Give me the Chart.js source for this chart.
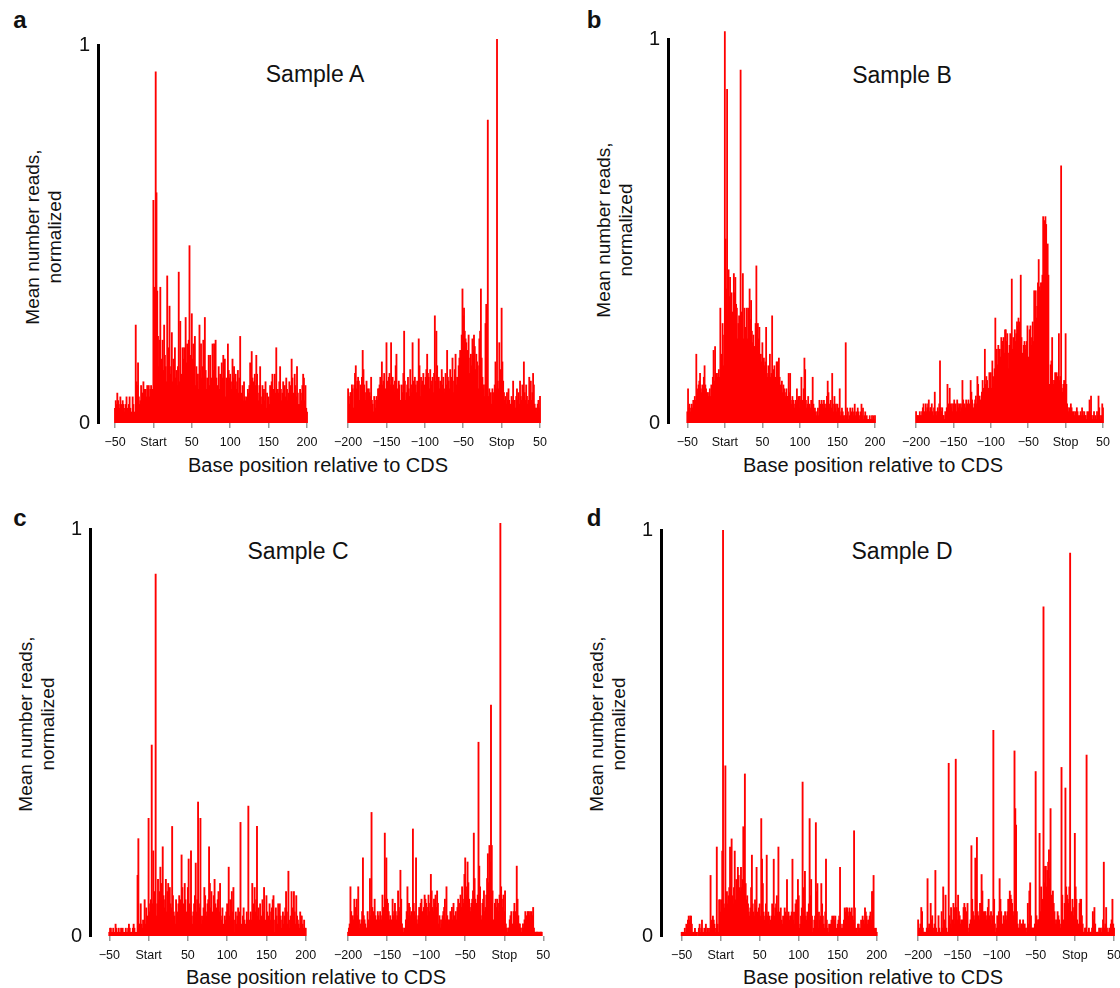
<!DOCTYPE html>
<html>
<head>
<meta charset="utf-8">
<script src="https://cdn.jsdelivr.net/npm/chart.js@4"></script>
<style>
  html, body { margin: 0; padding: 0; background: #fff; }
  body { width: 1120px; height: 988px; position: relative; overflow: hidden;
         font-family: "Liberation Sans", Arial, Helvetica, sans-serif; color: #111; }
  canvas { position: absolute; }
  .txt { position: absolute; transform: translate(-50%, -50%); white-space: nowrap; }
  .letter { font-weight: bold; font-size: 24px; }
  .sample { font-size: 23px; }
  .xtitle { font-size: 20px; }
  .ytitle { font-size: 19px; line-height: 22px; text-align: center;
            transform: translate(-50%, -50%) rotate(-90deg); }
</style>
</head>
<body>
<div class="txt letter" style="left:20px;top:20px">a</div>
<div class="txt letter" style="left:594px;top:20px">b</div>
<div class="txt letter" style="left:20px;top:518px">c</div>
<div class="txt letter" style="left:594px;top:518px">d</div>

<div class="txt sample" style="left:315px;top:74px">Sample A</div>
<div class="txt sample" style="left:902px;top:75px">Sample B</div>
<div class="txt sample" style="left:298px;top:551px">Sample C</div>
<div class="txt sample" style="left:902px;top:551px">Sample D</div>

<div class="txt xtitle" style="left:318px;top:465px">Base position relative to CDS</div>
<div class="txt xtitle" style="left:873px;top:465px">Base position relative to CDS</div>
<div class="txt xtitle" style="left:316px;top:977px">Base position relative to CDS</div>
<div class="txt xtitle" style="left:873px;top:977px">Base position relative to CDS</div>

<div class="txt ytitle" style="left:44px;top:237px">Mean number reads,<br>normalized</div>
<div class="txt ytitle" style="left:615px;top:230px">Mean number reads,<br>normalized</div>
<div class="txt ytitle" style="left:37px;top:724px">Mean number reads,<br>normalized</div>
<div class="txt ytitle" style="left:608px;top:724px">Mean number reads,<br>normalized</div>

<script>
// reads per position, in hundredths of the normalized maximum
// start windows run from -50 to 200, stop windows from -200 to 50
const startFrom = -50;
const stopFrom = -200;

const startTicks = [-50, 0, 50, 100, 150, 200];
const startTickLabels = ['\u221250', 'Start', '50', '100', '150', '200'];
const stopTicks = [-200, -150, -100, -50, 0, 50];
const stopTickLabels = ['\u2212200', '\u2212150', '\u2212100', '\u221250', 'Stop', '50'];
const yTicks = [0, 100];
const yTickLabels = ['0', '1'];

const startA = [
  4,6,5,8,6,5,4,7,4,5, 6,5,3,4,5,7,4,3,5,7, 4,2,3,7,5,3,2,26,11,10, 16,7,5,6,10,8,8,11,9,8,
  9,7,10,8,10,7,9,10,8,9, 59,36,36,93,61,35,23,15,22,36, 12,17,22,14,26,18,15,11,39,14,
  20,31,13,15,24,11,17,13,20,12, 14,10,15,40,11,27,12,13,20,17, 20,13,28,16,21,14,22,47,18,13,
  29,17,21,12,23,10,15,11,13,9, 26,14,21,12,15,22,10,28,14,9, 12,8,18,10,18,9,12,21,14,21,
  15,22,12,8,10,15,9,13,11,16, 12,18,11,17,7,12,10,21,14,12, 13,11,9,17,12,15,10,13,9,11,
  14,8,12,23,7,8,10,6,11,7, 6,7,5,9,8,10,16,9,19,12, 11,9,13,10,18,13,8,6,10,15,
  7,5,10,8,9,6,11,4,8,6, 7,5,10,8,11,13,9,6,13,8, 20,7,9,8,11,15,9,6,8,11,
  8,10,7,12,9,6,8,11,10,5, 17,12,8,6,13,10,7,15,8,5, 5,9,8,6,10,13,12,6,10,4, 3
];
const stopA = [
  9,7,5,8,8,10,9,4,10,13, 15,9,11,12,11,6,10,8,12,19, 14,10,8,6,11,9,5,9,8,7, 12,6,5,3,7,6,4,7,6,9,
  9,10,12,7,16,10,11,13,8,9, 21,11,9,12,13,10,21,9,12,10, 8,11,15,18,9,7,11,10,6,5,
  10,8,13,24,11,6,8,10,12,9, 7,14,10,8,21,11,9,12,10,8, 11,10,22,15,7,12,10,11,13,9,
  10,12,14,18,13,12,9,14,11,10, 12,8,13,28,11,24,15,10,12,9, 11,7,14,10,12,9,8,13,10,19,
  12,11,9,14,10,12,17,8,11,14, 18,10,12,11,15,17,19,12,23,35, 28,30,24,22,21,19,16,23,13,17,
  18,15,22,19,23,20,14,18,16,15, 9,22,24,35,17,12,9,10,7,26, 31,14,79,7,9,6,8,5,9,6,
  8,10,16,9,100,11,9,21,10,14, 30,16,11,8,6,7,5,8,6,9, 6,4,5,7,6,11,5,6,4,7,
  9,6,8,5,11,7,6,10,9,16, 8,6,10,7,5,6,12,9,11,6, 8,13,10,5,4,3,4,5,6,4, 7
];
const startB = [
  3,9,4,5,3,4,5,4,6,5, 7,6,18,9,8,10,11,13,9,8, 10,9,12,15,10,9,8,8,7,8, 9,7,10,8,12,19,11,20,13,13,
  12,13,14,12,30,16,18,26,15,23, 102,48,35,87,28,40,33,38,29,34, 29,25,39,34,38,31,30,22,26,28,
  24,92,29,27,39,22,30,25,23,30, 22,30,28,35,27,32,24,21,23,20, 20,26,41,19,26,22,25,17,18,16,
  21,14,17,15,16,25,13,12,15,14, 18,12,13,28,11,14,15,10,12,16, 16,11,17,12,10,9,11,8,10,9,
  8,7,9,6,7,13,8,13,6,5, 7,6,5,4,6,5,9,6,7,4, 7,6,12,6,5,9,17,14,6,4,
  5,7,3,5,4,6,6,12,5,3, 4,3,2,3,4,2,6,5,3,6, 5,4,6,5,4,5,7,11,8,4,
  5,6,4,13,5,3,7,4,5,3, 5,4,3,9,2,3,4,3,2,1, 2,21,2,4,3,1,2,4,2,3,
  4,2,3,5,2,3,2,4,3,1, 2,3,5,2,4,1,2,3,1,2, 1,1,1,2,1,1,2,1,2,1, 2
];
const stopB = [
  3,2,2,2,1,3,2,2,3,4, 5,3,2,5,3,4,5,6,3,4, 4,5,3,2,4,8,3,2,3,4, 3,5,16,4,3,4,2,2,1,3,
  2,4,10,5,3,9,5,4,5,3, 5,6,4,5,3,6,5,4,5,3, 5,4,11,6,3,5,4,6,4,5,
  6,5,4,11,8,6,3,4,5,6, 7,5,12,10,5,7,6,5,8,11, 9,8,19,10,12,11,8,9,13,7,
  13,9,16,12,10,14,27,17,19,15, 20,18,19,17,22,21,20,22,18,24, 24,21,23,18,14,20,23,21,37,19,
  22,20,24,21,23,26,25,27,26,24, 38,22,18,15,20,21,19,20,21,25, 17,15,24,25,20,22,26,21,34,25,
  34,27,30,36,42,35,34,36,36,38, 53,48,52,53,51,45,46,38,10,9, 15,16,22,11,10,11,13,9,13,12,
  9,23,11,12,66,9,8,10,11,9, 23,10,5,4,3,4,3,5,4,3, 2,3,2,3,2,4,3,2,1,2,
  3,2,4,3,2,3,2,2,1,3, 2,3,6,3,7,2,1,2,3,1, 2,1,3,2,7,4,2,1,2,5, 4
];
const startC = [
  1,2,2,1,1,2,1,1,3,2, 1,1,2,1,1,2,1,2,1,1, 1,2,1,1,2,3,2,1,1,1, 2,3,2,1,1,1,15,24,3,3,
  8,3,2,4,3,9,3,7,4,5, 29,6,8,9,47,8,21,11,6,89, 5,8,14,9,11,17,8,13,22,10,
  7,9,14,6,11,13,10,12,8,7, 27,10,6,5,3,9,5,6,8,10, 7,9,20,12,6,8,13,9,6,4,
  12,19,8,7,21,5,3,6,8,10, 18,6,9,33,8,7,29,3,5,4, 7,12,10,6,5,8,9,22,13,7,
  11,6,3,10,14,8,5,7,9,11, 6,13,5,4,7,3,2,5,4,6, 8,7,17,5,9,7,11,6,12,1,
  4,6,3,5,7,4,6,28,3,2, 5,7,4,3,2,6,4,32,2,4, 6,4,13,8,7,12,6,9,27,5,
  7,4,8,2,5,9,6,12,1,4, 10,6,3,5,8,4,6,7,9,10, 1,4,7,5,3,8,4,8,5,2,
  4,6,3,5,7,11,6,3,16,2, 4,5,11,7,4,11,6,3,10,5, 4,3,2,6,5,5,3,2,4,2, 2
];
const stopC = [
  1,2,3,12,6,3,5,4,9,5, 7,9,5,12,4,2,3,4,6,19, 5,4,3,2,2,6,4,3,14,5, 30,7,5,6,9,5,4,3,6,5,
  4,6,5,4,10,7,5,25,9,19, 9,8,6,4,5,3,4,9,5,6, 8,6,4,5,11,7,6,16,9,3,
  2,1,2,1,4,6,12,5,8,7, 5,6,4,26,8,6,5,19,4,3, 5,7,6,8,9,6,4,7,10,9,
  8,7,5,10,6,8,15,11,7,6, 9,8,10,7,11,8,3,5,2,4, 3,5,6,7,9,4,12,5,4,3,
  4,6,5,7,4,8,5,3,6,4, 7,9,6,8,10,7,12,9,8,15, 19,12,10,18,13,9,7,6,8,9,
  11,25,14,9,6,8,10,47,17,12, 5,4,8,9,11,6,7,10,14,20, 13,22,18,56,22,11,4,3,8,9,
  7,9,8,6,10,100,12,9,7,10, 6,11,3,2,1,2,2,4,5,6, 2,3,6,8,6,5,17,9,5,3,
  3,2,1,2,3,2,4,6,5,4, 6,6,5,6,4,6,5,7,2,1, 1,1,1,1,1,1,1,1,1,0, 0
];
const startD = [
  1,1,1,1,2,1,3,2,4,5, 4,5,5,3,1,1,1,2,1,1, 0,1,2,3,1,2,4,1,1,2, 1,3,1,2,1,2,1,15,4,2,
  5,4,3,1,2,22,3,1,9,9, 6,9,21,100,8,7,42,9,11,8, 10,12,22,9,24,10,8,12,21,9,
  14,11,17,15,12,11,17,12,14,27, 18,40,13,9,10,8,6,5,7,12, 20,8,6,5,9,7,17,6,5,7,
  8,5,29,19,13,6,4,5,8,20, 5,6,5,3,4,5,8,6,19,5, 7,8,10,6,22,6,5,7,4,3,
  5,4,7,6,5,14,5,6,4,5, 5,6,19,4,6,3,8,9,7,14, 10,2,3,5,7,38,12,7,16,5,
  4,6,5,8,29,10,14,5,1,2, 4,5,28,11,13,2,6,4,5,13, 8,5,3,2,6,19,4,2,1,3,
  2,3,4,5,4,5,4,5,2,1, 3,4,5,17,3,2,2,3,4,7, 6,7,7,6,5,7,6,5,7,5,
  4,26,7,2,2,1,3,3,2,2, 4,3,5,4,3,7,6,5,3,4, 4,5,6,4,11,11,15,2,1,2, 1
];
const stopD = [
  4,1,2,3,7,6,2,1,1,1, 1,2,14,2,3,1,8,4,5,2, 1,3,16,2,1,1,5,2,1,1, 6,2,12,3,4,10,2,1,1,42,
  5,3,7,2,4,8,3,7,43,7, 4,10,6,5,3,4,2,4,7,8, 7,4,6,8,1,2,3,4,22,9,
  6,5,4,19,9,24,6,5,4,8, 5,15,11,6,5,6,6,4,5,7, 9,5,4,6,3,5,50,9,3,1,
  2,5,4,6,14,9,6,2,3,5, 4,6,5,4,6,9,5,11,10,9, 8,6,5,45,31,27,6,3,2,2,
  4,2,3,3,4,2,3,2,1,2, 8,3,11,13,5,2,2,2,2,3, 40,5,3,4,4,25,6,12,3,9,
  80,13,17,17,12,16,18,21,14,31, 10,9,11,8,6,3,4,3,6,5, 4,3,2,41,10,4,2,8,36,12,
  10,9,8,12,93,4,6,9,5,7, 25,12,9,4,2,3,8,9,9,5, 3,1,1,2,2,44,1,1,2,1,
  1,1,2,6,4,7,3,1,1,1, 1,2,1,2,1,2,4,18,2,3, 7,2,1,1,2,1,3,4,9,3, 2
];

Chart.defaults.font.family = '"Liberation Sans", Arial, Helvetica, sans-serif';
Chart.defaults.color = '#111';

// page geometry of each panel: y axis line, value 1 and 0 rows,
// and where the first/last tick of each half sits
const panels = [
  { start: startA, stop: stopA, axisX: 98,  top: 39,  base: 423, s0: 115,   s1: 307,   e0: 347.3, e1: 540 },
  { start: startB, stop: stopB, axisX: 668, top: 33,  base: 423, s0: 687.3, s1: 875,   e0: 915,   e1: 1103 },
  { start: startC, stop: stopC, axisX: 90,  top: 523, base: 936, s0: 109.3, s1: 305.7, e0: 347.3, e1: 543.3 },
  { start: startD, stop: stopD, axisX: 661, top: 524, base: 936, s0: 681.7, s1: 876.7, e0: 917.7, e1: 1114 }
];

const PAD_L = 20, PAD_R = 20, PAD_T = 14, AXIS_W = 36, XAXIS_H = 30;

function drawHalf(values, from, ticks, tickLabels, px0, px1, top, base, axisX) {
  const n = values.length - 1;
  const ppu = (px1 - px0) / n;
  const withAxis = axisX != null;
  const plotLeft = withAxis ? Math.round(axisX) : Math.round(px0 - 0.5 * ppu);
  const cl = plotLeft - PAD_L - (withAxis ? AXIS_W : 0);
  const w = Math.round(px1 + 0.5 * ppu + PAD_R - cl);
  const plotRight = cl + w - PAD_R;
  const ct = Math.round(top) - PAD_T;
  const h = Math.round(base) + XAXIS_H - ct;

  const xmin = from + (plotLeft - px0) / ppu;
  const xmax = from + (plotRight - px0) / ppu;

  const canvas = document.createElement('canvas');
  canvas.width = w;
  canvas.height = h;
  canvas.style.left = cl + 'px';
  canvas.style.top = ct + 'px';
  document.body.appendChild(canvas);

  new Chart(canvas, {
    type: 'bar',
    data: {
      datasets: [{
        data: values.map((v, i) => ({ x: from + i, y: v })),
        backgroundColor: '#ff0000',
        borderWidth: 0,
        barPercentage: 2.4,
        categoryPercentage: 1,
        clip: false
      }]
    },
    options: {
      responsive: false,
      animation: false,
      events: [],
      layout: { padding: { top: PAD_T, left: PAD_L, right: PAD_R, bottom: 0 } },
      plugins: { legend: { display: false }, tooltip: { enabled: false } },
      scales: {
        x: {
          type: 'linear',
          min: xmin,
          max: xmax,
          bounds: 'data',
          offset: false,
          afterBuildTicks: s => { s.ticks = ticks.map(v => ({ value: v })); },
          afterFit: s => { s.height = XAXIS_H; },
          grid: { offset: false, drawOnChartArea: false, drawTicks: true, tickLength: 5, color: '#9a9a9a', lineWidth: 1.5 },
          border: { display: false },
          ticks: {
            padding: 7,
            color: '#111',
            font: { size: 12.5 },
            maxRotation: 0,
            autoSkip: false,
            callback: v => tickLabels[ticks.indexOf(v)]
          }
        },
        y: {
          display: withAxis,
          min: 0,
          max: 100,
          afterBuildTicks: s => { s.ticks = yTicks.map(v => ({ value: v })); },
          afterFit: s => { s.width = withAxis ? AXIS_W : 0; },
          grid: { display: false, drawTicks: false },
          border: { display: true, color: '#000', width: 3 },
          ticks: {
            padding: 8,
            color: '#111',
            font: { size: 20 },
            callback: v => yTickLabels[yTicks.indexOf(v)]
          }
        }
      }
    }
  });
}

panels.forEach(p => {
  drawHalf(p.start, startFrom, startTicks, startTickLabels, p.s0, p.s1, p.top, p.base, p.axisX);
  drawHalf(p.stop, stopFrom, stopTicks, stopTickLabels, p.e0, p.e1, p.top, p.base, null);
});
</script>
</body>
</html>
